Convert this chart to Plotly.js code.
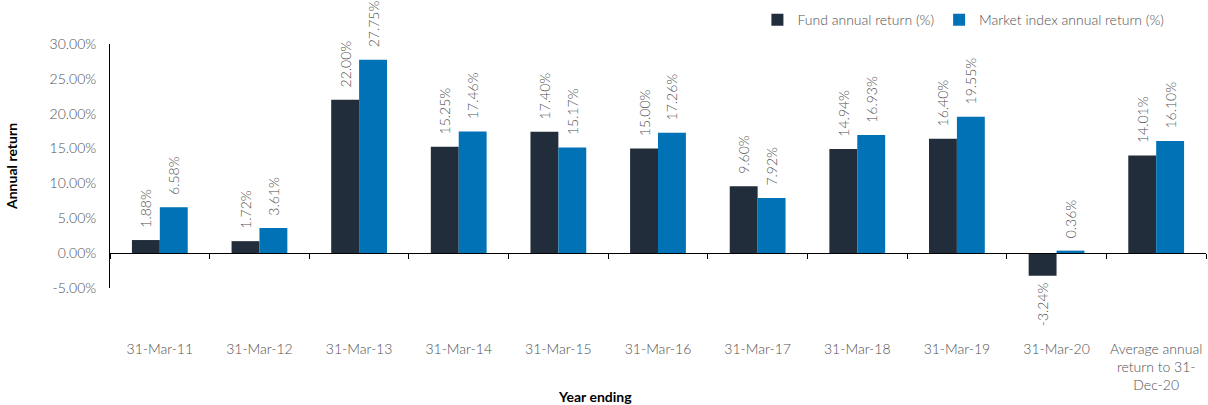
<!DOCTYPE html>
<html>
<head>
<meta charset="utf-8">
<script src="https://cdn.plot.ly/plotly-3.0.1.min.js"></script>
<style>html,body{margin:0;padding:0;background:#fff;}#chart{width:1208px;height:405px;}</style>
</head>
<body>
<div id="chart"></div>
<script>
const categories = ["31-Mar-11","31-Mar-12","31-Mar-13","31-Mar-14","31-Mar-15","31-Mar-16","31-Mar-17","31-Mar-18","31-Mar-19","31-Mar-20","Average annual<br>return to 31-<br>Dec-20"];
const fundReturns = [1.88, 1.72, 22.00, 15.25, 17.40, 15.00, 9.60, 14.94, 16.40, -3.24, 14.01];
const marketReturns = [6.58, 3.61, 27.75, 17.46, 15.17, 17.26, 7.92, 16.93, 19.55, 0.36, 16.10];
const seriesNames = ["Fund annual return (%)", "Market index annual return (%)"];
const yTickVals = [-5, 0, 5, 10, 15, 20, 25, 30];
const xTitle = "Year ending";
const yTitle = "Annual return";

const pad = v => (v >= 0 ? "\u00a0\u00a0\u2009" : "") + v.toFixed(2) + "%" + (v < 0 ? "\u00a0" : "");
const lightFont = {family: "Lato", size: 14, color: "#505050", weight: 300};

const traces = [
  {type: "bar", name: seriesNames[0], x: categories, y: fundReturns,
   marker: {color: "#222D3B"}, text: fundReturns.map(pad), textposition: "outside",
   textangle: -90, textfont: lightFont, constraintext: "none", cliponaxis: false, hoverinfo: "skip"},
  {type: "bar", name: seriesNames[1], x: categories, y: marketReturns,
   marker: {color: "#0072B5"}, text: marketReturns.map(pad), textposition: "outside",
   textangle: -90, textfont: lightFont, constraintext: "none", cliponaxis: false, hoverinfo: "skip"}
];

const layout = {
  width: 1208, height: 405,
  margin: {l: 110, r: 2, t: 44, b: 117},
  paper_bgcolor: "#fff", plot_bgcolor: "#fff",
  font: lightFont,
  barmode: "group", bargap: 0.44, bargroupgap: 0,
  showlegend: true,
  legend: {orientation: "h", xref: "container", yref: "container", x: 0.627, xanchor: "left",
           y: 0.95, yanchor: "middle", font: lightFont, itemwidth: 30, traceorder: "normal"},
  xaxis: {type: "category", anchor: "free", position: 1/7,
          showline: true, linecolor: "#000", linewidth: 1,
          ticks: "outside", tickson: "boundaries", ticklen: 5, tickcolor: "#000",
          tickangle: 0, ticklabelstandoff: 83, showgrid: false, zeroline: false,
          tickfont: lightFont, fixedrange: true},
  yaxis: {range: [-5, 30], tickvals: yTickVals, ticktext: yTickVals.map(v => v.toFixed(2) + "%"),
          showline: true, linecolor: "#000", linewidth: 1, ticks: "", showgrid: false,
          zeroline: false, ticklabelstandoff: 10, tickfont: lightFont,
          title: {text: yTitle, font: {family: "Lato", size: 14, color: "#000", weight: "bold"}, standoff: 28},
          fixedrange: true},
  annotations: [
    {text: xTitle, xref: "paper", yref: "paper", x: (595 - 110) / 1096, y: (288 - 396) / 244,
     xanchor: "center", yanchor: "middle", showarrow: false,
     font: {family: "Lato", size: 14, color: "#000", weight: "bold"}}
  ]
};

Plotly.newPlot("chart", traces, layout, {displayModeBar: false, staticPlot: true});
</script>
</body>
</html>
